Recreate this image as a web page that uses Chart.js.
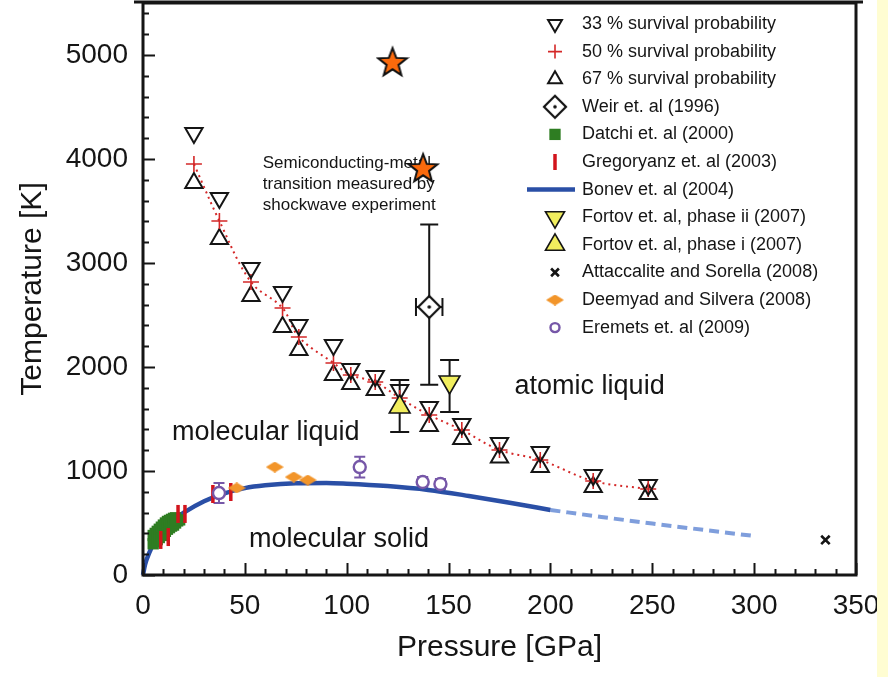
<!DOCTYPE html>
<html>
<head>
<meta charset="utf-8">
<title>Hydrogen phase diagram</title>
<script src="https://cdn.jsdelivr.net/npm/chart.js@4.4.1/dist/chart.umd.min.js"></script>
<style>
  html, body { margin: 0; padding: 0; background: #fff; }
  #wrap { position: relative; width: 888px; height: 677px; }
  #strip { position: absolute; left: 877px; top: 0; width: 11px; height: 677px; background: #fffdd2; }
</style>
</head>
<body>
<div id="wrap">
  <canvas id="phaseChart" width="888" height="677"></canvas>
  <div id="strip"></div>
</div>
<script>
// Survival probability runs (same pressures for all three)
const survPressure = [25, 37.5, 53, 68.5, 76.5, 93.5, 102, 114, 126, 140.5, 156.5, 175, 195, 221, 248];
const temp33 = [4250, 3625, 2952, 2721, 2404, 2212, 1981, 1913, 1779, 1615, 1452, 1269, 1183, 962, 865];
const temp50 = [3952, 3404, 2817, 2567, 2288, 2038, 1923, 1856, 1702, 1538, 1394, 1202, 1106, 904, 827];
const temp67 = [3769, 3231, 2683, 2385, 2163, 1923, 1837, 1779, 1620, 1433, 1308, 1130, 1038, 846, 779];

// Shockwave points (stars, no legend entry)
const starPressure = [122.5, 137.5];
const starTemp = [4933, 3913];

// Weir et al (1996)
const weirPressure = [140.5];
const weirTemp = [2577];
const weirTempRange = [[1830, 3370]];
const weirPressureErr = [6.5];

// Datchi et al (2000)
const datchiPressure = [5, 5, 6, 6, 7, 7, 8, 8, 9, 9, 10, 10, 11, 11, 12, 12, 13, 13, 14, 14, 15, 15, 16, 16, 17, 18];
const datchiTemp = [300, 380, 320, 400, 340, 420, 360, 440, 380, 460, 400, 480, 420, 500, 440, 515, 455, 525, 470, 535, 480, 545, 500, 550, 520, 530];

// Gregoryanz et al (2003)
const gregPressure = [8.7, 12.4, 17.2, 20.6, 34.3, 43.1];
const gregTemp = [337, 365, 587, 587, 779, 798];

// Bonev et al (2004): computed curve and its extrapolation
const bonevPressure = [0, 1, 3, 6, 10, 15, 20, 30, 40, 50, 60, 75, 90, 100, 120, 140, 160, 180, 200];
const bonevTemp = [0, 100, 210, 330, 440, 530, 600, 710, 785, 835, 862, 882, 885, 878, 855, 818, 760, 695, 625];
const bonevExtPressure = [200, 225, 250, 275, 300];
const bonevExtTemp = [625, 558, 495, 434, 375];

// Fortov et al (2007)
const fortov2Pressure = [150.5];
const fortov2Temp = [1856];
const fortov2Range = [[1567, 2067]];
const fortov1Pressure = [126];
const fortov1Temp = [1615];
const fortov1Range = [[1375, 1875]];

// Attaccalite and Sorella (2008)
const attaPressure = [335];
const attaTemp = [337];

// Deemyad and Silvera (2008)
const deemPressure = [46, 64.7, 74, 80.9];
const deemTemp = [837, 1038, 942, 913];

// Eremets et al (2009)
const eremPressure = [37.3, 106.4, 137.3, 146];
const eremTemp = [788, 1038, 894, 875];
const eremRange = [[692, 884], [938, 1138], [846, 942], [827, 923]];

// Axis ticks
const xTickValues = [0, 50, 100, 150, 200, 250, 300, 350];
const yTickValues = [0, 1000, 2000, 3000, 4000, 5000];
const xRange = { min: 0, max: 350, minor: 10 };
const yRange = { min: 0, max: 5500, minor: 200 };

const legendOrder = [
  '33 % survival probability', '50 % survival probability', '67 % survival probability',
  'Weir et. al (1996)', 'Datchi et. al (2000)', 'Gregoryanz et. al (2003)', 'Bonev et. al (2004)',
  'Fortov et. al, phase ii (2007)', 'Fortov et. al, phase i (2007)', 'Attaccalite and Sorella (2008)',
  'Deemyad and Silvera (2008)', 'Eremets et. al (2009)'
];

const regionLabels = [
  { text: 'molecular liquid', x: 14.2, y: 1298, size: 27 },
  { text: 'atomic liquid', x: 182.4, y: 1740, size: 27 },
  { text: 'molecular solid', x: 52, y: 269, size: 27 },
  { text: 'Semiconducting-metal', x: 58.8, y: 3913, size: 17 },
  { text: 'transition measured by', x: 58.8, y: 3712, size: 17 },
  { text: 'shockwave experiment', x: 58.8, y: 3510, size: 17 }
];

const FONT = '"Liberation Sans", Arial, Helvetica, sans-serif';
const INK = '#151515';

function pts(xs, ys) {
  return xs.map((x, i) => ({ x: x, y: ys[i] }));
}

// Custom marker images
function makeStar(size) {
  const c = document.createElement('canvas');
  c.width = size; c.height = size;
  const g = c.getContext('2d');
  const cx = size / 2, cy = size / 2 + 1, R = size / 2 - 2, r = R * 0.42;
  g.beginPath();
  for (let i = 0; i < 10; i++) {
    const a = -Math.PI / 2 + i * Math.PI / 5;
    const rad = i % 2 === 0 ? R : r;
    g.lineTo(cx + rad * Math.cos(a), cy + rad * Math.sin(a));
  }
  g.closePath();
  g.fillStyle = '#fb6a0c';
  g.fill();
  g.lineWidth = 2;
  g.strokeStyle = '#111';
  g.stroke();
  return c;
}

function makeWeir(size) {
  const c = document.createElement('canvas');
  c.width = size; c.height = size;
  const g = c.getContext('2d');
  const h = size / 2, r = h - 2;
  g.beginPath();
  g.moveTo(h, h - r); g.lineTo(h + r, h); g.lineTo(h, h + r); g.lineTo(h - r, h);
  g.closePath();
  g.fillStyle = '#fff';
  g.fill();
  g.lineWidth = 2.2;
  g.strokeStyle = '#111';
  g.stroke();
  g.beginPath();
  g.arc(h, h, 1.8, 0, Math.PI * 2);
  g.fillStyle = '#111';
  g.fill();
  return c;
}

function makeFlatDiamond(w, h) {
  const c = document.createElement('canvas');
  c.width = w; c.height = h;
  const g = c.getContext('2d');
  g.beginPath();
  g.moveTo(w / 2, 0); g.lineTo(w, h / 2); g.lineTo(w / 2, h); g.lineTo(0, h / 2);
  g.closePath();
  g.fillStyle = '#f2952a';
  g.fill();
  return c;
}

const starImg = makeStar(34);
const weirImg = makeWeir(26);
const deemImg = makeFlatDiamond(18, 11);

// Error bars: vertical ranges, optional horizontal half-widths
const errorBars = {
  id: 'errorBars',
  beforeDatasetsDraw(chart) {
    const { ctx, chartArea: a, scales: { x, y } } = chart;
    ctx.save();
    ctx.beginPath();
    ctx.rect(a.left, a.top, a.right - a.left, a.bottom - a.top);
    ctx.clip();
    chart.data.datasets.forEach(ds => {
      if (!ds.yRange && !ds.xErr) return;
      ctx.strokeStyle = ds.errColor || INK;
      ctx.lineWidth = ds.errWidth || 2;
      const cap = ds.capWidth || 18;
      ds.data.forEach((p, i) => {
        const px = x.getPixelForValue(p.x);
        const py = y.getPixelForValue(p.y);
        ctx.beginPath();
        if (ds.yRange) {
          const y1 = y.getPixelForValue(ds.yRange[i][0]);
          const y2 = y.getPixelForValue(ds.yRange[i][1]);
          ctx.moveTo(px, y1); ctx.lineTo(px, y2);
          ctx.moveTo(px - cap / 2, y1); ctx.lineTo(px + cap / 2, y1);
          ctx.moveTo(px - cap / 2, y2); ctx.lineTo(px + cap / 2, y2);
        }
        if (ds.xErr) {
          const x1 = x.getPixelForValue(p.x - ds.xErr[i]);
          const x2 = x.getPixelForValue(p.x + ds.xErr[i]);
          ctx.moveTo(x1, py); ctx.lineTo(x2, py);
          ctx.moveTo(x1, py - cap / 2); ctx.lineTo(x1, py + cap / 2);
          ctx.moveTo(x2, py - cap / 2); ctx.lineTo(x2, py + cap / 2);
        }
        ctx.stroke();
      });
    });
    ctx.restore();
  }
};

// Region labels and annotation text
const textLabels = {
  id: 'textLabels',
  beforeDatasetsDraw(chart) {
    const { ctx, scales: { x, y } } = chart;
    ctx.save();
    ctx.fillStyle = INK;
    ctx.textAlign = 'left';
    ctx.textBaseline = 'alphabetic';
    regionLabels.forEach(l => {
      ctx.font = l.size + 'px ' + FONT;
      ctx.fillText(l.text, x.getPixelForValue(l.x), y.getPixelForValue(l.y));
    });
    ctx.restore();
  }
};

// Box frame with inward major/minor ticks
const frameTicks = {
  id: 'frameTicks',
  afterDatasetsDraw(chart) {
    const { ctx, chartArea: a, scales: { x, y } } = chart;
    ctx.save();
    ctx.strokeStyle = INK;
    ctx.lineWidth = 2;
    ctx.beginPath();
    for (let v = xRange.min; v <= xRange.max; v += xRange.minor) {
      const px = Math.round(x.getPixelForValue(v)) + 0.5;
      const len = xTickValues.includes(v) ? 12 : 6;
      ctx.moveTo(px, a.bottom); ctx.lineTo(px, a.bottom - len);
    }
    for (let v = yRange.min; v < yRange.max; v += yRange.minor) {
      const py = Math.round(y.getPixelForValue(v)) + 0.5;
      const len = yTickValues.includes(v) ? 12 : 6;
      ctx.moveTo(a.left, py); ctx.lineTo(a.left + len, py);
    }
    ctx.stroke();
    ctx.lineWidth = 3;
    ctx.strokeRect(a.left, a.top, a.right - a.left, a.bottom - a.top);
    ctx.beginPath();
    ctx.moveTo(a.left - 9, a.top - 1); ctx.lineTo(a.right + 7, a.top - 1);
    ctx.stroke();
    ctx.restore();
  }
};

// Legend drawn inside the plot, top right
const insideLegend = {
  id: 'insideLegend',
  afterDraw(chart) {
    const { ctx } = chart;
    const mx = 555, tx = 582, y0 = 24, dy = 27.6;
    ctx.save();
    ctx.font = '18px ' + FONT;
    ctx.textBaseline = 'middle';
    ctx.textAlign = 'left';
    legendOrder.forEach((label, i) => {
      const ds = chart.data.datasets.find(d => d.label === label);
      const yy = y0 + i * dy;
      if (ds.legendLine) {
        ctx.strokeStyle = ds.borderColor;
        ctx.lineWidth = ds.borderWidth;
        ctx.setLineDash([]);
        ctx.beginPath();
        ctx.moveTo(mx - 28, yy); ctx.lineTo(mx + 20, yy);
        ctx.stroke();
      } else {
        ctx.strokeStyle = ds.pointBorderColor || ds.borderColor;
        ctx.fillStyle = ds.pointBackgroundColor || 'rgba(0,0,0,0)';
        ctx.lineWidth = ds.pointBorderWidth;
        ctx.setLineDash([]);
        Chart.helpers.drawPoint(ctx, {
          pointStyle: ds.pointStyle,
          rotation: ds.pointRotation || 0,
          radius: ds.legendRadius || ds.pointRadius,
          borderWidth: ds.pointBorderWidth
        }, mx, yy);
      }
      ctx.fillStyle = INK;
      ctx.fillText(label, tx, yy);
    });
    ctx.restore();
  }
};

const datasets = [
  {
    label: 'stars', data: pts(starPressure, starTemp),
    pointStyle: starImg, pointRadius: 17, pointBorderWidth: 0
  },
  {
    label: 'Fortov et. al, phase ii (2007)', data: pts(fortov2Pressure, fortov2Temp),
    yRange: fortov2Range, capWidth: 19,
    pointStyle: 'triangle', pointRotation: 180, pointRadius: 12, legendRadius: 11,
    pointBackgroundColor: '#f1ee5e', pointBorderColor: INK, borderColor: INK, pointBorderWidth: 1.6
  },
  {
    label: 'Fortov et. al, phase i (2007)', data: pts(fortov1Pressure, fortov1Temp),
    yRange: fortov1Range, capWidth: 19,
    pointStyle: 'triangle', pointRadius: 12, legendRadius: 11,
    pointBackgroundColor: '#f1ee5e', pointBorderColor: INK, borderColor: INK, pointBorderWidth: 1.6
  },
  {
    label: 'Weir et. al (1996)', data: pts(weirPressure, weirTemp),
    yRange: weirTempRange, xErr: weirPressureErr, capWidth: 18,
    pointStyle: weirImg, pointRadius: 13, pointBorderWidth: 0
  },
  {
    label: '33 % survival probability', data: pts(survPressure, temp33),
    pointStyle: 'triangle', pointRotation: 180, pointRadius: 10, legendRadius: 8,
    pointBackgroundColor: 'rgba(0,0,0,0)', pointBorderColor: INK, borderColor: INK, pointBorderWidth: 2
  },
  {
    label: '50 % survival probability', data: pts(survPressure, temp50),
    showLine: true, tension: 0.35, borderDash: [2, 4], borderWidth: 2, borderColor: '#d42828',
    pointStyle: 'cross', pointRadius: 8, legendRadius: 7,
    pointBorderColor: '#d42828', pointBorderWidth: 1.6
  },
  {
    label: '67 % survival probability', data: pts(survPressure, temp67),
    pointStyle: 'triangle', pointRadius: 10, legendRadius: 8,
    pointBackgroundColor: 'rgba(0,0,0,0)', pointBorderColor: INK, borderColor: INK, pointBorderWidth: 2
  },
  {
    label: 'Eremets et. al (2009)', data: pts(eremPressure, eremTemp),
    yRange: eremRange, capWidth: 11, errColor: '#7657a8', errWidth: 2,
    pointStyle: 'circle', pointRadius: 6, legendRadius: 4.5,
    pointBackgroundColor: '#fff', pointBorderColor: '#7657a8', borderColor: '#7657a8', pointBorderWidth: 2.4
  },
  {
    label: 'Deemyad and Silvera (2008)', data: pts(deemPressure, deemTemp),
    pointStyle: deemImg, pointRadius: 9, pointBorderWidth: 0
  },
  {
    label: 'Gregoryanz et. al (2003)', data: pts(gregPressure, gregTemp),
    pointStyle: 'line', pointRotation: 90, pointRadius: 9, legendRadius: 8,
    pointBorderColor: '#d2141c', borderColor: '#d2141c', pointBorderWidth: 3.5
  },
  {
    label: 'Datchi et. al (2000)', data: pts(datchiPressure, datchiTemp),
    pointStyle: 'rect', pointRadius: 8, legendRadius: 8,
    pointBackgroundColor: '#2e7d22', pointBorderColor: '#2e7d22', borderColor: '#2e7d22', pointBorderWidth: 0
  },
  {
    label: 'Attaccalite and Sorella (2008)', data: pts(attaPressure, attaTemp),
    pointStyle: 'crossRot', pointRadius: 6, legendRadius: 5.5,
    pointBorderColor: INK, borderColor: INK, pointBorderWidth: 2.6
  },
  {
    label: 'Bonev et. al (2004)', data: pts(bonevPressure, bonevTemp), legendLine: true,
    showLine: true, cubicInterpolationMode: 'monotone', borderColor: '#2a4fa6', borderWidth: 4.5,
    pointRadius: 0
  },
  {
    label: 'Bonev extrapolation', data: pts(bonevExtPressure, bonevExtTemp),
    showLine: true, cubicInterpolationMode: 'monotone', borderColor: '#7f9edc', borderWidth: 4,
    borderDash: [10, 6], pointRadius: 0
  }
];

const tickFont = { family: FONT, size: 28 };
const titleFont = { family: FONT, size: 30 };

new Chart(document.getElementById('phaseChart'), {
  type: 'scatter',
  data: { datasets: datasets },
  options: {
    responsive: false,
    animation: false,
    clip: false,
    // plot box is placed by hand: no room reserved for edge points or edge labels
    layout: { autoPadding: false, padding: { top: 3, right: 32, left: 0, bottom: 0 } },
    plugins: {
      legend: { display: false },
      tooltip: { enabled: false }
    },
    scales: {
      x: {
        type: 'linear', min: xRange.min, max: xRange.max,
        afterFit: s => { s.height = 102; s.paddingLeft = 0; s.paddingRight = 0; },
        afterBuildTicks: s => { s.ticks = xTickValues.map(v => ({ value: v })); },
        grid: { display: false, drawTicks: false },
        border: { display: false },
        ticks: { padding: 14, font: tickFont, color: INK, maxRotation: 0, autoSkip: false, callback: v => String(v) },
        title: { display: true, text: 'Pressure [GPa]', font: titleFont, color: INK, padding: { top: 0, bottom: 11 } }
      },
      y: {
        type: 'linear', min: yRange.min, max: yRange.max,
        afterFit: s => { s.width = 143; s.paddingTop = 0; s.paddingBottom = 0; },
        afterBuildTicks: s => { s.ticks = yTickValues.map(v => ({ value: v })); },
        grid: { display: false, drawTicks: false },
        border: { display: false },
        ticks: { padding: 15, font: tickFont, color: INK, autoSkip: false, callback: v => String(v) },
        title: { display: true, text: 'Temperature [K]', font: titleFont, color: INK, padding: { top: 15, bottom: 0 } }
      }
    }
  },
  plugins: [errorBars, textLabels, frameTicks, insideLegend]
});
</script>
</body>
</html>
